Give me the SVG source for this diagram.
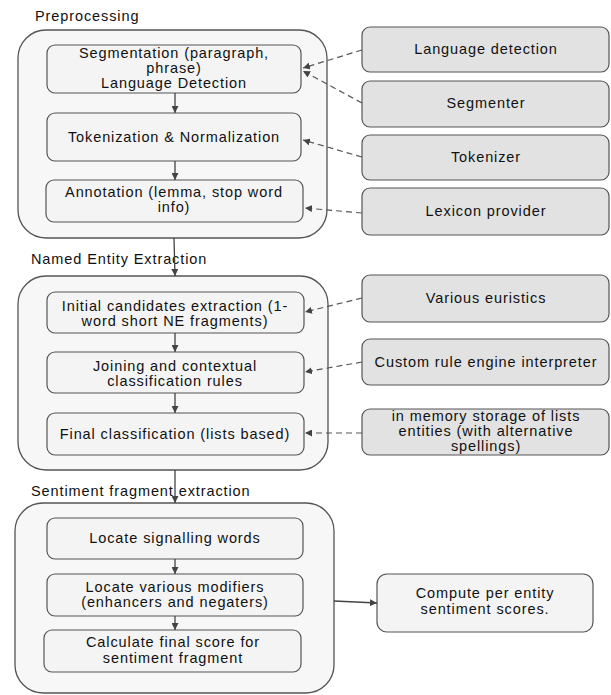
<svg xmlns="http://www.w3.org/2000/svg" width="611" height="695" viewBox="0 0 611 695">
<defs>
<marker id="ah" viewBox="0 0 10 10" refX="10" refY="5" markerWidth="7" markerHeight="7" orient="auto" markerUnits="userSpaceOnUse"><path d="M0,0 L10,5 L0,10 z" fill="#444"/></marker>
<style>
text{font-family:"Liberation Sans",Arial,sans-serif;font-size:14.5px;fill:#111;letter-spacing:0.9px}
.c text,.n text{text-anchor:middle}
.grp{fill:#f7f7f7;stroke:#555;stroke-width:1.3}
.in{fill:#f4f4f4;stroke:#555;stroke-width:1.2}
.ex{fill:#e2e2e2;stroke:#555;stroke-width:1.2}
.out{fill:#f4f4f4;stroke:#555;stroke-width:1.2}
.e{stroke:#444;stroke-width:1.3;fill:none;marker-end:url(#ah)}
.d{stroke:#555;stroke-width:1.2;fill:none;stroke-dasharray:6,4;marker-end:url(#ah)}
</style>
</defs>
<rect width="611" height="695" fill="#ffffff"/>

<g id="group-preprocessing">
<rect class="grp" x="18" y="30" width="309" height="208" rx="28"/>
<text x="35" y="21">Preprocessing</text>
</g>
<g id="group-ne">
<rect class="grp" x="18" y="276" width="310" height="194" rx="28"/>
<text x="31" y="264">Named Entity Extraction</text>
</g>
<g id="group-sentiment">
<rect class="grp" x="15" y="503" width="319" height="190" rx="28"/>
<text x="31" y="496">Sentiment fragment extraction</text>
</g>

<g id="seg" class="n"><rect class="in" x="47" y="45" width="254" height="48" rx="8"/>
<text x="174" y="58">Segmentation (paragraph,</text><text x="174" y="73">phrase)</text><text x="174" y="88">Language Detection</text></g>
<g id="tok" class="n"><rect class="in" x="47" y="113" width="254" height="48" rx="8"/>
<text x="174" y="142">Tokenization &amp; Normalization</text></g>
<g id="ann" class="n"><rect class="in" x="46" y="180" width="257" height="42" rx="8"/>
<text x="174" y="197">Annotation (lemma, stop word</text><text x="174" y="212">info)</text></g>

<g id="langdet" class="c"><rect class="ex" x="362" y="27" width="247" height="45" rx="8"/><text x="486" y="54">Language detection</text></g>
<g id="segmenter" class="c"><rect class="ex" x="362" y="81" width="247" height="46" rx="8"/><text x="486" y="108">Segmenter</text></g>
<g id="tokenizer" class="c"><rect class="ex" x="362" y="135" width="247" height="45" rx="8"/><text x="486" y="162">Tokenizer</text></g>
<g id="lexicon" class="c"><rect class="ex" x="362" y="188" width="247" height="47" rx="8"/><text x="486" y="216">Lexicon provider</text></g>

<g id="init" class="n"><rect class="in" x="47" y="292" width="257" height="41" rx="8"/>
<text x="175" y="311">Initial candidates extraction (1-</text><text x="175" y="326">word short NE fragments)</text></g>
<g id="join" class="n"><rect class="in" x="47" y="352" width="257" height="41" rx="8"/>
<text x="175" y="371">Joining and contextual</text><text x="175" y="386">classification rules</text></g>
<g id="final" class="n"><rect class="in" x="47" y="413" width="257" height="42" rx="8"/>
<text x="175" y="439">Final classification (lists based)</text></g>

<g id="euristics" class="c"><rect class="ex" x="362" y="275" width="247" height="47" rx="8"/><text x="486" y="303">Various euristics</text></g>
<g id="rules" class="c"><rect class="ex" x="362" y="339" width="247" height="46" rx="8"/><text x="486" y="367">Custom rule engine interpreter</text></g>
<g id="memory" class="c"><rect class="ex" x="362" y="409" width="247" height="46" rx="8"/>
<text x="486" y="421">in memory storage of lists</text><text x="486" y="436">entities (with alternative</text><text x="486" y="451">spellings)</text></g>

<g id="signal" class="n"><rect class="in" x="47" y="518" width="256" height="41" rx="8"/>
<text x="175" y="543">Locate signalling words</text></g>
<g id="modifiers" class="n"><rect class="in" x="47" y="574" width="256" height="42" rx="8"/>
<text x="175" y="592">Locate various modifiers</text><text x="175" y="607">(enhancers and negaters)</text></g>
<g id="calc" class="n"><rect class="in" x="44" y="630" width="257" height="42" rx="8"/>
<text x="173" y="647">Calculate final score for</text><text x="173" y="663">sentiment fragment</text></g>

<g id="compute" class="c"><rect class="out" x="377" y="574" width="216" height="58" rx="10"/>
<text x="485" y="598">Compute per entity</text><text x="485" y="614">sentiment scores.</text></g>

<g id="connectors">
<line class="e" x1="175" y1="93" x2="175" y2="113"/>
<line class="e" x1="175" y1="161" x2="175" y2="180"/>
<line class="e" x1="174" y1="238" x2="175" y2="276"/>
<line class="e" x1="175" y1="333" x2="175" y2="352"/>
<line class="e" x1="175" y1="393" x2="175" y2="413"/>
<line class="e" x1="175" y1="470" x2="175" y2="503"/>
<line class="e" x1="175" y1="559" x2="175" y2="574"/>
<line class="e" x1="175" y1="616" x2="175" y2="630"/>
<line class="e" x1="334" y1="601" x2="377" y2="603"/>
<line class="d" x1="362" y1="50" x2="303" y2="68"/>
<line class="d" x1="362" y1="103" x2="303" y2="71"/>
<line class="d" x1="362" y1="157" x2="303" y2="140"/>
<line class="d" x1="362" y1="213" x2="305" y2="208"/>
<line class="d" x1="362" y1="298" x2="305" y2="312"/>
<line class="d" x1="362" y1="362" x2="305" y2="372"/>
<line class="d" x1="362" y1="433" x2="305" y2="433"/>
</g>
</svg>
